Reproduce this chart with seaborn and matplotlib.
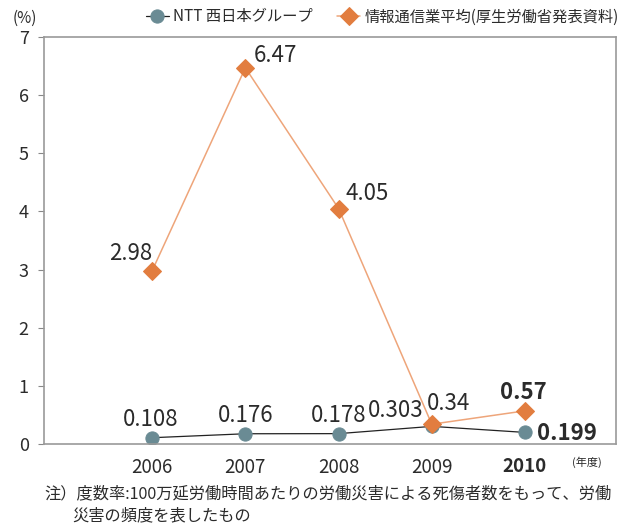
import matplotlib
matplotlib.use("Agg")
import matplotlib.pyplot as plt
import pandas as pd
import seaborn as sns

years = ["2006", "2007", "2008", "2009", "2010"]
ntt = [0.108, 0.176, 0.178, 0.303, 0.199]
industry = [2.98, 6.47, 4.05, 0.34, 0.57]
ntt_name = "NTT 西日本グループ"
ind_name = "情報通信業平均(厚生労働省発表資料)"
yticks = [0, 1, 2, 3, 4, 5, 6, 7]

sns.set_style("white")
plt.rcParams["font.family"] = ["Noto Sans CJK JP", "DejaVu Sans"]

C_NTT = "#6a8b94"
C_IND = "#e27d3f"
C_IND_LINE = "#eea57a"
TXT = "#2b2b2b"

df = pd.DataFrame({"year": years * 2,
                   "value": ntt + industry,
                   "series": [ntt_name] * 5 + [ind_name] * 5})

fig = plt.figure(figsize=(6.21, 5.24), dpi=100)
ax = fig.add_axes([0.0709, 0.1527, 0.921, 0.7767])

sns.lineplot(data=df[df.series == ind_name], x="year", y="value", ax=ax,
             color=C_IND_LINE, lw=1.1, marker="D", markersize=9,
             markerfacecolor=C_IND, markeredgecolor=C_IND, label=ind_name,
             legend=False)
sns.lineplot(data=df[df.series == ntt_name], x="year", y="value", ax=ax,
             color="#222222", lw=0.9, marker="o", markersize=9.5,
             markerfacecolor=C_NTT, markeredgecolor=C_NTT, label=ntt_name,
             legend=False)
ax.lines[0].set_zorder(3)
ax.lines[1].set_zorder(2)

ax.set_xlim(-1.16, 4.976)
ax.set_ylim(0, 7)
ax.set_yticks(yticks)
ax.set_xlabel("")
ax.set_ylabel("")
ax.tick_params(axis="y", left=True, length=4, color="#888888",
               labelsize=13, labelcolor=TXT, pad=7)
ax.tick_params(axis="x", bottom=False, labelsize=13.5, labelcolor=TXT, pad=6)
for lab in ax.get_xticklabels():
    if lab.get_text() == "2010":
        lab.set_fontweight("bold")
for s in ax.spines.values():
    s.set_color("#9a9a9a")
    s.set_linewidth(1.2)

# value labels, offsets in pixels from the marker
fs = 16
ind_off = [(0, 17, "right", False), (8, 12, "left", False),
           (7, 15, "left", False), (-5, 21, "left", False),
           (-2, 18, "center", True)]
for i, (dx, dy, ha, bold) in enumerate(ind_off):
    ax.annotate(f"{industry[i]:g}", (i, industry[i]), xytext=(dx, dy),
                textcoords="offset pixels", ha=ha, va="center", fontsize=fs,
                color=TXT, fontweight="bold" if bold else "normal")
ntt_off = [(-2, 18, "center", False), (0, 18, "center", False),
           (0, 18, "center", False), (-8, 16, "right", False),
           (12, -1, "left", True)]
for i, (dx, dy, ha, bold) in enumerate(ntt_off):
    ax.annotate(f"{ntt[i]:g}", (i, ntt[i]), xytext=(dx, dy),
                textcoords="offset pixels", ha=ha, va="center", fontsize=fs,
                color=TXT, fontweight="bold" if bold else "normal")

fig.text(13 / 621, 1 - 18 / 524, "(%)", fontsize=11, color=TXT, va="center")
fig.text(572 / 621, 1 - 462 / 524, "(年度)", fontsize=8, color=TXT, va="center")
fig.text(44 / 621, 1 - 494 / 524,
         "注）度数率:100万延労働時間あたりの労働災害による死傷者数をもって、労働",
         fontsize=11.7, color=TXT, va="center")
fig.text(72 / 621, 1 - 516 / 524, "災害の頻度を表したもの",
         fontsize=11.7, color=TXT, va="center")

handles = [ax.lines[1], ax.lines[0]]
fig.legend(handles, [ntt_name, ind_name], loc="center right",
           bbox_to_anchor=(619 / 621, 1 - 17 / 524), ncol=2, frameon=False,
           fontsize=11, handlelength=1.5, handletextpad=0.3,
           columnspacing=1.6, labelcolor=TXT, borderaxespad=0,
           borderpad=0)

fig.savefig("out.png", dpi=100)
